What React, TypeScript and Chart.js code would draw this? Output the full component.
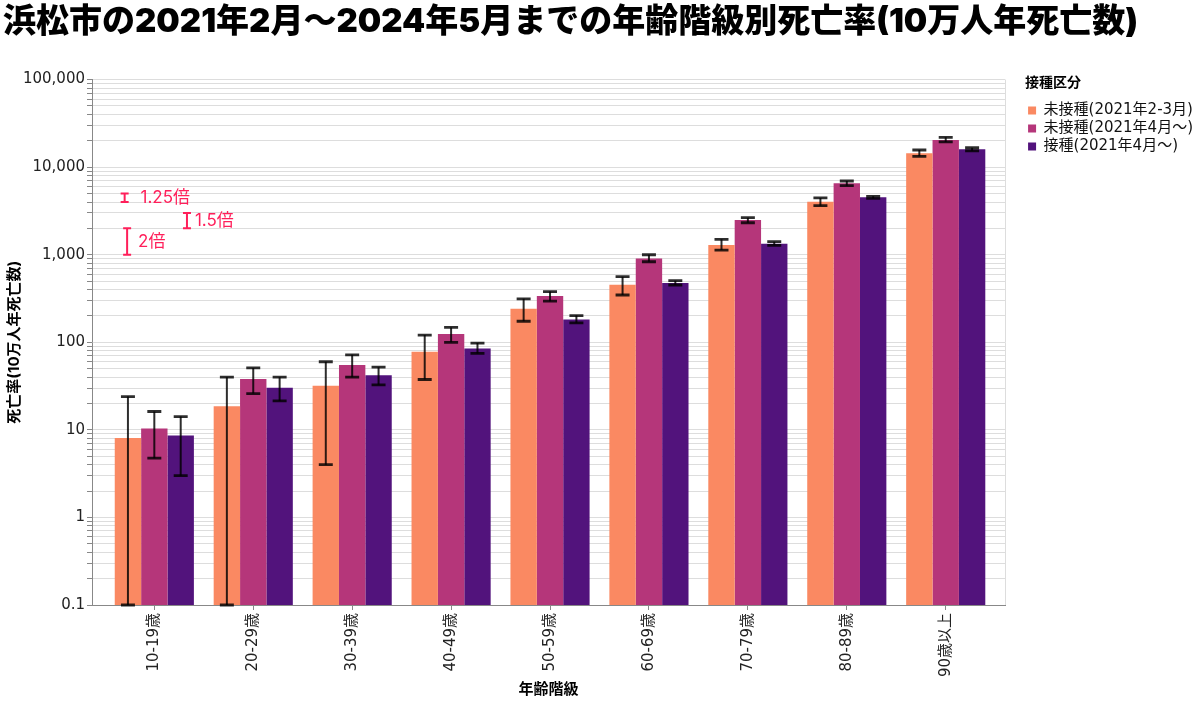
import React, { useEffect, useRef } from "react";
import { Chart, registerables } from "chart.js";

Chart.register(...registerables);

const titleText = "浜松市の2021年2月〜2024年5月までの年齢階級別死亡率(10万人年死亡数)";
const categories = ["10-19歳", "20-29歳", "30-39歳", "40-49歳", "50-59歳", "60-69歳", "70-79歳", "80-89歳", "90歳以上"];
const seriesNames = ["未接種(2021年2-3月)", "未接種(2021年4月〜)", "接種(2021年4月〜)"];

// 未接種(2021年2-3月)
const unvaxEarly = [8.1, 18.6, 32, 78, 242, 454, 1290, 4040, 14400];
const unvaxEarlyLo = [0, 0, 4.0, 37.6, 174, 347, 1130, 3630, 13300];
const unvaxEarlyHi = [24, 40, 60, 121, 314, 561, 1500, 4450, 15700];
// 未接種(2021年4月〜)
const unvaxLate = [10.4, 38, 55, 124, 338, 908, 2500, 6530, 20400];
const unvaxLateLo = [4.75, 26, 40, 100, 295, 832, 2320, 6150, 19400];
const unvaxLateHi = [16.2, 51, 72, 148, 380, 1000, 2650, 6950, 21900];
// 接種(2021年4月〜)
const vax = [8.6, 30.3, 42, 85, 182, 476, 1336, 4530, 16000];
const vaxLo = [3.0, 21.4, 32.7, 74.7, 167, 451, 1280, 4400, 15400];
const vaxHi = [14.2, 40, 52, 98, 202, 505, 1410, 4650, 16700];

const yMajorTicks = [0.1, 1, 10, 100, 1000, 10000, 100000];
const yTickLabels = ["0.1", "1", "10", "100", "1,000", "10,000", "100,000"];

// red hand-drawn annotations (x in category units, y in data values)
const annotLabels = ["1.25倍", "1.5倍", "2倍"];
const annotX = [-0.3, 0.33, -0.275];
const annotTextX = [-0.14, 0.41, -0.164];
const annotLow = [4000, 2000, 1000];
const annotHigh = [5000, 3000, 2000];

const colors = ["#fa8962", "#b5367a", "#52137c"];
const FONT = 'Inter, "Noto Sans CJK JP", sans-serif';
const TICK_FONT = '"DejaVu Sans", "Noto Sans CJK JP", sans-serif';

const errorBarPlugin = {
  id: "errorBars",
  afterDatasetsDraw(chart: any) {
    const { ctx, chartArea } = chart;
    const y = chart.scales.y;
    ctx.save();
    ctx.beginPath();
    ctx.rect(chartArea.left, chartArea.top - 2, chartArea.right - chartArea.left, chartArea.bottom - chartArea.top + 4);
    ctx.clip();
    chart.data.datasets.forEach((ds: any, d: number) => {
      const meta = chart.getDatasetMeta(d);
      meta.data.forEach((bar: any, i: number) => {
        const lo = Math.max(ds.errLo[i], y.min);
        const hi = ds.errHi[i];
        const x = bar.x;
        const yl = y.getPixelForValue(lo);
        const yh = y.getPixelForValue(hi);
        ctx.strokeStyle = "rgba(0,0,0,0.82)";
        ctx.lineWidth = 2;
        ctx.beginPath();
        ctx.moveTo(x, yl);
        ctx.lineTo(x, yh);
        ctx.stroke();
        ctx.lineWidth = 2.8;
        ctx.beginPath();
        ctx.moveTo(x - 7, yl);
        ctx.lineTo(x + 7, yl);
        ctx.moveTo(x - 7, yh);
        ctx.lineTo(x + 7, yh);
        ctx.stroke();
      });
    });
    ctx.restore();
  },
};

const framePlugin = {
  id: "frame",
  afterLayout(chart: any) {
    const lg = chart.legend;
    if (lg) {
      lg.left += 20;
      lg.right += 20;
      lg.top -= 4;
      lg.bottom -= 4;
    }
  },
  beforeDatasetsDraw(chart: any) {
    const { ctx, chartArea } = chart;
    ctx.save();
    ctx.strokeStyle = "#dddddd";
    ctx.lineWidth = 1;
    ctx.beginPath();
    ctx.moveTo(Math.round(chartArea.right) + 0.5, chartArea.top);
    ctx.lineTo(Math.round(chartArea.right) + 0.5, chartArea.bottom);
    ctx.stroke();
    ctx.restore();
  },
};

const annotationPlugin = {
  id: "redNotes",
  afterDraw(chart: any) {
    const { ctx } = chart;
    const xs = chart.scales.x;
    const ys = chart.scales.y;
    ctx.save();
    ctx.strokeStyle = "#ff1f5a";
    ctx.fillStyle = "#ff1f5a";
    ctx.lineWidth = 2;
    ctx.font = `17px ${FONT}`;
    ctx.textBaseline = "middle";
    ctx.textAlign = "left";
    annotLabels.forEach((label, i) => {
      const x = xs.getPixelForValue(annotX[i]);
      const y1 = ys.getPixelForValue(annotLow[i]);
      const y2 = ys.getPixelForValue(annotHigh[i]);
      ctx.beginPath();
      ctx.moveTo(x, y1);
      ctx.lineTo(x, y2);
      ctx.moveTo(x - 4, y1);
      ctx.lineTo(x + 4, y1);
      ctx.moveTo(x - 4, y2);
      ctx.lineTo(x + 4, y2);
      ctx.stroke();
      ctx.fillText(label, xs.getPixelForValue(annotTextX[i]), (y1 + y2) / 2);
    });
    ctx.restore();
  },
};

export default function App() {
  const canvasRef = useRef<HTMLCanvasElement | null>(null);

  useEffect(() => {
    document.body.style.margin = "0";
    Chart.defaults.font.family = FONT;
    const series = [
      { vals: unvaxEarly, lo: unvaxEarlyLo, hi: unvaxEarlyHi },
      { vals: unvaxLate, lo: unvaxLateLo, hi: unvaxLateHi },
      { vals: vax, lo: vaxLo, hi: vaxHi },
    ];
    const chart = new Chart(canvasRef.current as HTMLCanvasElement, {
      type: "bar",
      data: {
        datasets: series.map((s, k) => ({
          label: seriesNames[k],
          data: s.vals.map((v, i) => ({ x: i, y: v })),
          backgroundColor: colors[k],
          borderWidth: 0,
          categoryPercentage: 0.8,
          barPercentage: 1.0,
          errLo: s.lo,
          errHi: s.hi,
        })) as any,
      },
      options: {
        responsive: false,
        devicePixelRatio: 1,
        animation: false,
        layout: { padding: { left: 3, right: 17, top: 0, bottom: 0 } },
        plugins: {
          tooltip: { enabled: false },
          title: {
            display: true,
            text: titleText,
            align: "start",
            color: "#000",
            font: { size: 33, weight: "900", family: FONT },
            padding: { top: 2, bottom: 38 },
          },
          legend: {
            position: "right",
            align: "start",
            fullSize: false,
            title: {
              display: true,
              text: "接種区分",
              position: "start",
              color: "#000",
              font: { size: 14, weight: "bold", family: FONT },
              padding: { top: 0, bottom: 7.7 },
            },
            labels: {
              boxWidth: 8,
              boxHeight: 8,
              color: "#111",
              padding: 3,
              font: { size: 15, family: TICK_FONT },
            },
          },
        },
        scales: {
          x: {
            type: "linear",
            offset: false,
            min: -0.63,
            max: 8.6,
            afterFit: (s: any) => {
              s.height = 97;
            },
            afterBuildTicks: (s: any) => {
              s.ticks = categories.map((_, i) => ({ value: i }));
            },
            grid: { offset: false, drawOnChartArea: false, drawTicks: true, tickLength: 5, tickColor: "#888" },
            border: { color: "#888", width: 1 },
            ticks: {
              autoSkip: false,
              maxRotation: 90,
              minRotation: 90,
              padding: 3,
              color: "#222",
              font: { size: 15, family: TICK_FONT },
              callback: (v: any) => categories[v] ?? "",
            },
            title: {
              display: true,
              text: "年齢階級",
              color: "#000",
              font: { size: 15, weight: "bold", family: FONT },
              padding: { top: 4, bottom: 4 },
            },
          },
          y: {
            type: "logarithmic",
            min: 0.1,
            max: 100000,
            afterFit: (s: any) => {
              s.width = 89;
            },
            afterBuildTicks: (s: any) => {
              const t: any[] = [];
              for (let k = 0; k < yMajorTicks.length - 1; k++) {
                for (let m = 1; m < 10; m++) t.push({ value: yMajorTicks[k] * m });
              }
              t.push({ value: yMajorTicks[yMajorTicks.length - 1] });
              s.ticks = t;
            },
            grid: { color: "#dddddd", lineWidth: 1, tickLength: 5, tickColor: "#888" },
            border: { color: "#888", width: 1 },
            ticks: {
              autoSkip: false,
              padding: 2,
              color: "#222",
              font: { size: 15, family: TICK_FONT },
              callback: (v: any) => {
                const idx = yMajorTicks.findIndex((m) => Math.abs(m - v) / m < 1e-9);
                return idx >= 0 ? yTickLabels[idx] : "";
              },
            },
            title: {
              display: true,
              text: "死亡率(10万人年死亡数)",
              color: "#000",
              font: { size: 15, weight: "bold", family: FONT },
              padding: { top: 2, bottom: 2 },
            },
          },
        },
      },
      plugins: [framePlugin, errorBarPlugin, annotationPlugin],
    } as any);
    return () => chart.destroy();
  }, []);

  return (
    <div style={{ width: 1200, height: 702 }}>
      <canvas ref={canvasRef} width={1200} height={702} style={{ display: "block" }} />
    </div>
  );
}
